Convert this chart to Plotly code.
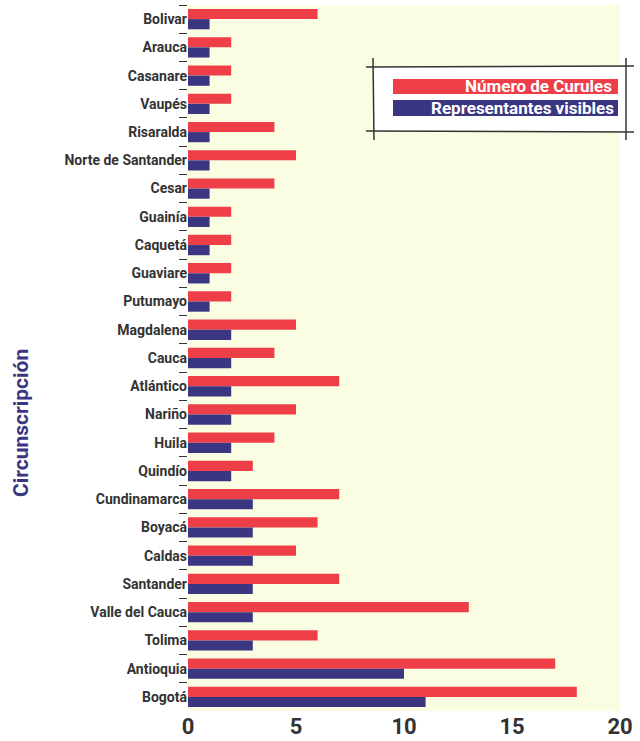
import plotly.graph_objects as go

categories = ["Bolivar", "Arauca", "Casanare", "Vaupés", "Risaralda", "Norte de Santander",
              "Cesar", "Guainía", "Caquetá", "Guaviare", "Putumayo", "Magdalena", "Cauca",
              "Atlántico", "Nariño", "Huila", "Quindío", "Cundinamarca", "Boyacá", "Caldas",
              "Santander", "Valle del Cauca", "Tolima", "Antioquia", "Bogotá"]
curules = [6, 2, 2, 2, 4, 5, 4, 2, 2, 2, 2, 5, 4, 7, 5, 4, 3, 7, 6, 5, 7, 13, 6, 17, 18]
visibles = [1, 1, 1, 1, 1, 1, 1, 1, 1, 1, 1, 2, 2, 2, 2, 2, 2, 3, 3, 3, 3, 3, 3, 10, 11]
x_ticks = [0, 5, 10, 15, 20]

RED = "#ee3e48"
NAVY = "#3b3682"
FONT = "Roboto, Liberation Sans, sans-serif"

fig = go.Figure()
fig.add_trace(go.Bar(y=categories, x=curules, orientation="h", name="Número de Curules",
                     marker=dict(color=RED, line=dict(width=0))))
fig.add_trace(go.Bar(y=categories, x=visibles, orientation="h", name="Representantes visibles",
                     marker=dict(color=NAVY, line=dict(width=0))))

L, R, T, B = 188, 20, 5, 30
W, H = 640, 741
pw = W - L - R
ph = H - T - B

def px(x):
    return (x - L) / pw

def py(y):
    return (H - B - y) / ph

shapes = [
    dict(type="rect", xref="paper", yref="paper", x0=px(373), x1=px(626), y0=py(131), y1=py(67),
         fillcolor="white", line=dict(width=0), layer="below"),
    dict(type="rect", xref="paper", yref="paper", x0=px(393), x1=px(618), y0=py(94), y1=py(79),
         fillcolor=RED, line=dict(width=0)),
    dict(type="rect", xref="paper", yref="paper", x0=px(393), x1=px(618), y0=py(116), y1=py(100),
         fillcolor=NAVY, line=dict(width=0)),
    dict(type="line", xref="paper", yref="paper", x0=px(366), x1=px(634), y0=py(67), y1=py(66),
         line=dict(color="#333", width=1.5)),
    dict(type="line", xref="paper", yref="paper", x0=px(366), x1=px(634), y0=py(131), y1=py(132),
         line=dict(color="#333", width=1.5)),
    dict(type="line", xref="paper", yref="paper", x0=px(373), x1=px(374), y0=py(58), y1=py(140),
         line=dict(color="#333", width=1.5)),
    dict(type="line", xref="paper", yref="paper", x0=px(626), x1=px(626), y0=py(58), y1=py(140),
         line=dict(color="#333", width=1.5)),
]

annotations = [
    dict(text="Número de Curules", xref="paper", yref="paper", x=px(614), y=py(86),
         xanchor="right", yanchor="middle", showarrow=False,
         font=dict(family=FONT, size=17, color="white", weight="bold")),
    dict(text="Representantes visibles", xref="paper", yref="paper", x=px(616), y=py(108),
         xanchor="right", yanchor="middle", showarrow=False,
         font=dict(family=FONT, size=17, color="white", weight="bold")),
    dict(text="Circunscripción", xref="paper", yref="paper", x=px(21), y=py(423),
         xanchor="center", yanchor="middle", textangle=-90, showarrow=False,
         font=dict(family=FONT, size=21, color=NAVY, weight="bold")),
]

fig.update_layout(
    width=W, height=H,
    margin=dict(l=L, r=R, t=T, b=B, autoexpand=False),
    paper_bgcolor="white",
    plot_bgcolor="#fafde2",
    barmode="group",
    bargap=0.28,
    bargroupgap=0,
    showlegend=False,
    shapes=shapes,
    annotations=annotations,
    font=dict(family=FONT, color="#333"),
)
fig.update_xaxes(range=[0, 20], tickvals=x_ticks, ticktext=[str(v) for v in x_ticks],
                 showgrid=False, zeroline=False, showline=False, automargin=False,
                 ticklabelstandoff=0,
                 tickfont=dict(family=FONT, size=22, color="#333", weight="bold"))
fig.update_yaxes(autorange="reversed", showgrid=False, showline=False, automargin=False,
                 ticks="outside", tickson="boundaries", ticklen=8, tickcolor="#333",
                 tickfont=dict(family=FONT, size=14, color="#333", weight="bold"))

fig.write_html("out.html", config={"displayModeBar": False},
               post_script="document.body.style.margin='0px';document.body.style.overflow='hidden';")
